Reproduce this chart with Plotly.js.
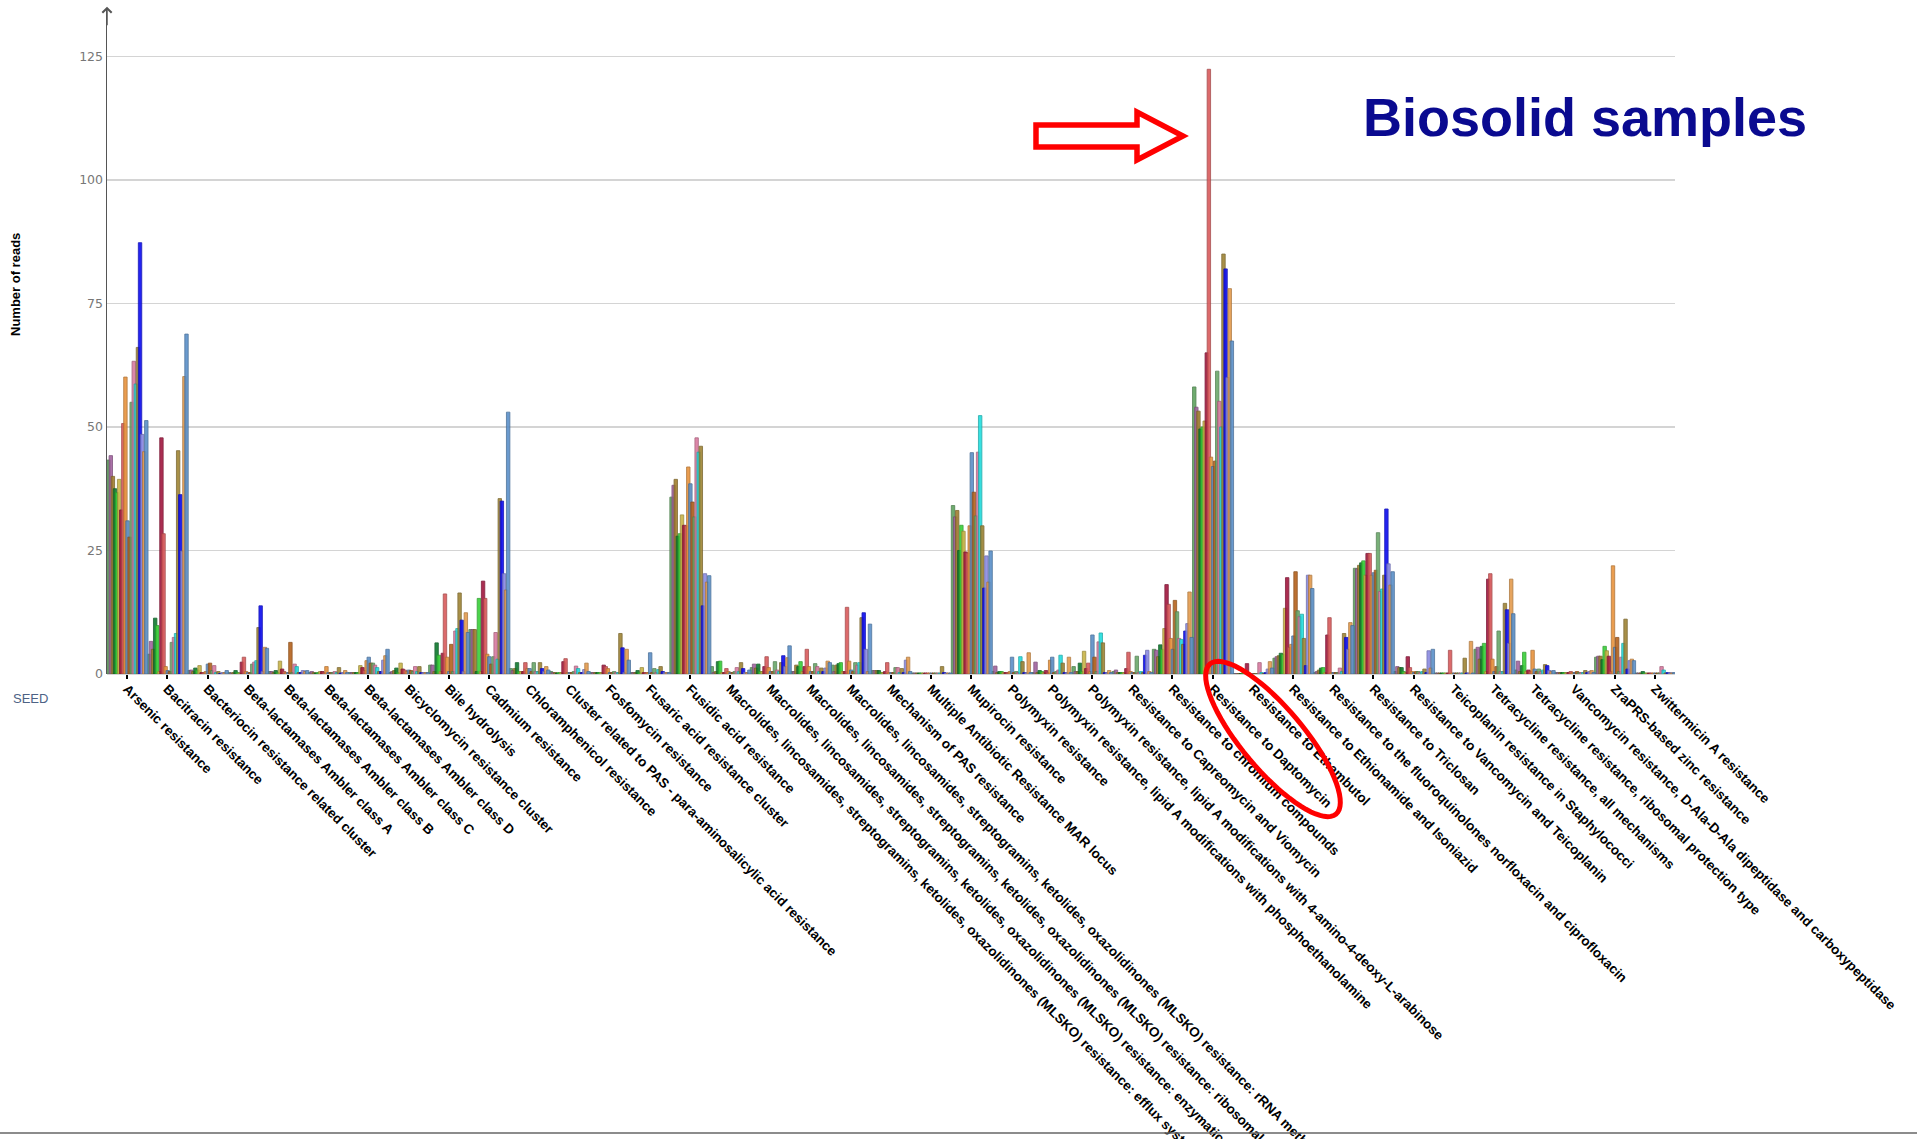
<!DOCTYPE html>
<html><head><meta charset="utf-8">
<script src="https://cdn.plot.ly/plotly-3.0.1.min.js"></script>
<style>html,body{margin:0;padding:0;background:#fff;overflow:hidden}#chart{width:1917px;height:1139px}</style>
</head><body><div id="chart"></div>
<script>
const categories = [
"Arsenic resistance","Bacitracin resistance","Bacteriocin resistance related cluster",
"Beta-lactamases Ambler class A","Beta-lactamases Ambler class B","Beta-lactamases Ambler class C",
"Beta-lactamases Ambler class D","Bicyclomycin resistance cluster","Bile hydrolysis","Cadmium resistance",
"Chloramphenicol resistance","Cluster related to PAS - para-aminosalicylic acid resistance",
"Fosfomycin resistance","Fusaric acid resistance cluster","Fusidic acid resistance",
"Macrolides, lincosamides, streptogramins, ketolides, oxazolidinones (MLSKO) resistance: efflux systems",
"Macrolides, lincosamides, streptogramins, ketolides, oxazolidinones (MLSKO) resistance: enzymatic inactivation",
"Macrolides, lincosamides, streptogramins, ketolides, oxazolidinones (MLSKO) resistance: ribosomal protection",
"Macrolides, lincosamides, streptogramins, ketolides, oxazolidinones (MLSKO) resistance: rRNA methylation",
"Mechanism of PAS resistance","Multiple Antibiotic Resistance MAR locus","Mupirocin resistance",
"Polymyxin resistance","Polymyxin resistance, lipid A modifications with phosphoethanolamine",
"Polymyxin resistance, lipid A modifications with 4-amino-4-deoxy-L-arabinose",
"Resistance to Capreomycin and Viomycin","Resistance to chromium compounds","Resistance to Daptomycin",
"Resistance to Ethambutol","Resistance to Ethionamide and Isoniazid",
"Resistance to the fluoroquinolones norfloxacin and ciprofloxacin","Resistance to Triclosan",
"Resistance to Vancomycin and Teicoplanin","Teicoplanin resistance in Staphylococci",
"Tetracycline resistance, all mechanisms","Tetracycline resistance, ribosomal protection type",
"Vancomycin resistance, D-Ala-D-Ala dipeptidase and carboxypeptidase","ZraPRS-based zinc resistance",
"Zwittermicin A resistance"];

const sample01 = [43.3,4,0.7,0.3,0.5,0.3,0.3,0.3,1.8,9,1.1,0.5,0.3,0.3,35.8,1.5,1.3,0.5,1.8,0.7,0.2,34.1,0.5,0.3,1.5,0.5,5,58.1,0.1,3.2,0.3,21.4,0.5,0.2,5,0.8,0.3,3.4,0.2];
const sample02 = [44.2,6.6,0.8,0.2,0.5,0.5,0.3,0.5,1.8,9,0.7,0.3,0.3,0.3,38.2,0.3,2,0.5,0.5,0.7,0.2,31.8,1.6,2.4,0.5,0.8,4.8,54,0.1,3.5,0.5,21.3,1.5,0.2,5.4,2.6,0.3,3.6,0.2];
const sample03 = [40,5,0.5,0.3,0.3,0.3,0.3,0.7,0.5,9,1.1,0.3,0.3,0.3,39.4,0.5,1.2,1.8,1.8,0.7,0.2,33.1,0.3,0.3,0.5,0.3,3.5,53.2,0.1,3.7,0.8,22,1.3,0.2,3,0.5,0.3,3.6,0.2];
const sample04 = [37.5,11.3,1.2,0.7,0.7,0.2,0.3,1.2,6.3,0.5,2.3,0.2,0.3,0.7,27.9,2.5,2,1.5,2.1,0.7,0.2,25,0.5,0.7,2.2,0.3,5.9,49.6,0.1,4.2,1.2,22.5,1.3,0.2,5.6,1.7,0.3,2.9,0.5];
const sample05 = [36.7,9.8,0.8,0.3,0.3,0.3,0.3,0.3,3.8,15.3,0.5,0.3,0.3,0.3,28.4,2.6,0.5,2.5,2.3,0.3,0.2,30.1,0.5,0.5,0.5,0.3,5,50,0.2,4,1.3,22.9,0.5,0.2,6.2,4.4,0.3,5.6,0.2];
const sample06 = [39.4,0.5,1.7,0.2,2.6,0.5,1.7,2.2,0.5,0.5,0.5,0.3,0.3,1.3,32.2,0.3,0.5,0.5,0.5,0.3,0.2,28.9,0.3,0.3,4.6,0.3,9.2,51.2,0.1,13.3,0.3,20,0.3,0.2,0.5,0.5,0.3,4.7,0.2];
const sample07 = [33.2,47.8,0.3,2.4,1,0.5,1.3,1,4.2,18.8,0.5,2.5,1.8,0.3,30.1,0.3,1.5,1.5,0.5,0.5,0.2,24.7,0.3,0.7,1.1,1.1,18.1,65,2.1,19.5,7.9,24.4,3.5,0.2,19.2,0.8,0.3,3.6,0.2];
const sample08 = [50.7,28.4,0.3,3.4,0.5,0.3,0.7,0.8,16.2,15.3,2.3,3.1,1.5,0.3,30,1.1,3.5,5,13.5,2.3,0.2,24.5,0.3,0.3,2.2,4.4,14.1,122.4,0.2,5.4,11.4,24.4,1.3,4.8,20.3,0.5,0.5,0.5,0.2];
const sample09 = [60.1,1.5,0.5,0.5,0.3,1.5,2.7,0.5,3.4,4,1.1,0.3,1.1,0.3,41.9,0.5,1.3,1.5,2.6,0.3,0.2,30,0.5,2.8,0.5,0.5,7.2,43.9,0.1,6,0.3,20,0.5,0.2,3,4.8,0.3,21.9,0.2];
const sample10 = [31,0.7,2,0.3,0.3,0.3,3.4,0.8,0.5,3.5,1.1,0.3,0.3,4.3,38.5,0.3,0.5,0.5,0.8,0.3,0.2,44.8,3.4,3.4,7.9,0.3,5,42,0.1,7.7,0.3,20.5,0.3,0.2,0.5,1,0.3,5.4,0.2];
const sample11 = [27.7,0.5,2.2,0.3,6.4,0.3,2.2,0.7,6,2,0.5,0.3,0.3,0.3,34.8,0.3,0.5,0.5,0.5,0.3,0.2,36.8,0.3,0.3,3.4,0.3,14.9,43.1,0.1,20.7,0.3,21,0.5,0.2,1.5,0.5,0.5,7.4,0.2];
const sample12 = [55,6.4,0.7,2,0.3,0.3,2.2,0.5,0.5,3.5,2.3,0.5,0.5,1.1,31.8,0.5,2.5,2.1,2.3,1.3,0.2,32,0.5,0.5,0.5,3.6,12.6,61.3,0.1,12.8,0.3,28.6,0.5,0.2,8.7,1,0.3,0.5,0.2];
const sample13 = [63.3,7.4,1.7,2.4,2,0.5,1.8,1.5,8.7,8.4,0.5,1.6,0.3,0.3,47.8,1.3,0.8,1.5,1.8,1.3,0.2,44.9,0.3,0.8,6.5,0.3,7.2,55.2,2.3,11.6,1.2,16.7,0.3,0.2,0.5,0.5,0.3,3.4,1.5];
const sample14 = [58.7,8.2,0.3,2.7,1.5,0.3,1.3,0.5,9.2,3,0.5,1.1,0.3,0.9,44.9,0.5,0.5,0.5,2.3,0.3,0.2,52.3,3.5,3.8,8.3,0.5,7,50,0.3,12.1,0.5,17.2,0.5,0.2,0.5,0.8,0.3,6.2,0.8];
const sample15 = [66.1,45.2,0.5,9.4,0.3,1.3,0.5,1.5,16.4,35.5,2.3,0.3,8.2,1.5,46.1,2.3,2.3,1.2,11.4,1.1,1.5,30,2.5,2.2,6.3,0.3,6,85,0.1,7.2,8.2,20,1,3.2,14.3,1.9,0.7,11.1,0.2];
const sample16 = [87.3,36.3,0.1,13.8,0.3,0.2,0.5,0.3,10.9,35,1.1,0.3,5.3,0.5,13.8,1.1,3.7,0.5,12.4,0.3,0.3,17.4,0.3,0.3,0.3,3.8,8.7,82,0.3,1.7,7.4,33.4,0.3,0.2,13,1.7,0.3,1,0.3];
const sample17 = [48.5,24.9,0.3,0.5,0.7,0.3,2.8,0.3,0.5,20.3,0.5,0.9,0.3,0.3,20.3,0.3,1.5,1.2,5,2.8,0.2,23.9,0.3,0.3,0.3,4.8,10.2,60,1,20,5,22.3,4.7,0.2,6.2,0.7,0.5,2.7,0.3];
const sample18 = [45,60.2,0.3,5.4,0.5,0.7,3.7,0.3,12.4,17,1.5,2.2,5,0.3,18.6,0.3,3.3,2.6,0.5,3.4,0.2,18.6,4.3,3.4,0.7,0.5,16.6,78,2.5,20,10.4,18,1.2,6.6,19.2,0.5,0.7,3,0.2];
const sample19 = [51.3,68.8,0.7,5.2,0.7,0.3,5,0.3,8.4,53,0.8,0.5,2.8,0.3,19.9,0.8,5.7,2.3,10.1,0.5,0.2,24.9,0.3,0.3,0.3,0.3,7.4,67.4,1.2,17.3,9.8,20.7,5,0.2,12.2,0.7,0.3,2.7,0.3];

const seriesNames = ["Sample 1","Sample 2","Sample 3","Sample 4","Sample 5","Sample 6","Sample 7","Sample 8","Sample 9","Sample 10","Sample 11","Sample 12","Sample 13","Sample 14","Sample 15","Sample 16","Sample 17","Sample 18","Sample 19"];
const seriesColors = ["#5fa35f","#a1629f","#a07e2e","#0e7a2e","#38d038","#c9b447","#a1173f","#d95a5c","#e8933d","#5b8fc7","#b5621c","#6aa86a","#d97aa0","#22dede","#9f8435","#0c0cf0","#8b8be2","#e49b4d","#5a90c9"];
const yTickVals = [0,25,50,75,100,125];
const yTickText = ["0","25","50","75","100","125"];

const series = [sample01,sample02,sample03,sample04,sample05,sample06,sample07,sample08,sample09,sample10,sample11,sample12,sample13,sample14,sample15,sample16,sample17,sample18,sample19];

function darker(hex, f){
  const n = parseInt(hex.slice(1),16);
  const r = Math.round(((n>>16)&255)*f), g = Math.round(((n>>8)&255)*f), b = Math.round((n&255)*f);
  return `rgba(${r},${g},${b},0.85)`;
}

const W = 1917, H = 1139;
const M = {l:107, r:242, t:10, b:465};
const PW = W - M.l - M.r, PH = H - M.t - M.b;
const px = x => (x - M.l) / PW;
const py = y => (H - M.b - y) / PH;

const barW = 0.085;
const step = (1.02 - barW) / (series.length - 1);
const traces = series.map((vals, k) => ({
  type: 'bar', x: categories, y: vals, name: seriesNames[k],
  offset: -0.5 + k * step, width: barW,
  marker: {color: seriesColors[k], opacity: 0.9, line: {color: darker(seriesColors[k], 0.75), width: 1}},
  hoverinfo: 'skip', showlegend: false
}));

// decorative red arrow (pixel outline converted to paper)
const arrowPts = [[1036,125],[1137,125],[1137,112],[1183,136],[1137,160],[1137,147],[1036,147]];
const arrowPath = 'M' + arrowPts.map(p => px(p[0]).toFixed(5) + ',' + py(p[1]).toFixed(5)).join(' L') + ' Z';

// decorative rotated ellipse
const ecx = 1273, ecy = 739, ea = 98, eb = 31, eth = 50 * Math.PI / 180;
let ell = [];
for (let i = 0; i <= 72; i++) {
  const t = i / 72 * 2 * Math.PI;
  const X = ecx + ea * Math.cos(t) * Math.cos(eth) - eb * Math.sin(t) * Math.sin(eth);
  const Y = ecy + ea * Math.cos(t) * Math.sin(eth) + eb * Math.sin(t) * Math.cos(eth);
  ell.push(px(X).toFixed(5) + ',' + py(Y).toFixed(5));
}
const ellPath = 'M' + ell.join(' L') + ' Z';

const layout = {
  width: W, height: H, margin: M,
  paper_bgcolor: '#ffffff', plot_bgcolor: '#ffffff',
  barmode: 'overlay', showlegend: false,
  xaxis: {
    type: 'category', range: [-0.5, categories.length - 0.5], automargin: false,
    tickangle: 45, ticks: 'outside', ticklen: 4, tickwidth: 2, tickcolor: '#000',
    ticklabelstandoff: -3,
    showgrid: false, showline: false, zeroline: false,
    tickfont: {family: 'Liberation Sans, Arial, sans-serif', size: 13.4, color: '#000', weight: 'bold'}
  },
  yaxis: {
    range: [0, 134.4], automargin: false, tickvals: yTickVals, ticktext: yTickText,
    showgrid: true, gridcolor: '#d4d4d4', gridwidth: 1.5,
    zeroline: true, zerolinecolor: '#d4d4d4', zerolinewidth: 1.5,
    showline: true, linecolor: '#555', linewidth: 1.5, ticks: '',
    tickfont: {family: 'DejaVu Sans, sans-serif', size: 12.5, color: '#777'}
  },
  annotations: [
    {xref: 'paper', yref: 'paper', x: 0, y: 1.005, ax: 0, ay: 20, text: '', showarrow: true,
     arrowhead: 4, arrowsize: 1.2, arrowwidth: 1.5, arrowcolor: '#555'},
    {xref: 'paper', yref: 'paper', x: px(15), y: py(285), xanchor: 'center', yanchor: 'middle',
     text: 'Number of reads', showarrow: false, textangle: -90,
     font: {family: 'Liberation Sans, Arial, sans-serif', size: 13, color: '#000', weight: 'bold'}},
    {xref: 'paper', yref: 'paper', x: px(30), y: py(698), xanchor: 'center', yanchor: 'middle',
     text: 'SEED', showarrow: false,
     font: {family: 'Liberation Sans, Arial, sans-serif', size: 13, color: '#4d6285'}},
    {xref: 'paper', yref: 'paper', x: px(1585), y: py(117), xanchor: 'center', yanchor: 'middle',
     text: '<b>Biosolid samples</b>', showarrow: false,
     font: {family: 'Liberation Sans, Arial, sans-serif', size: 54, color: '#0a0a90'}}
  ],
  shapes: [
    {type: 'path', xref: 'paper', yref: 'paper', path: arrowPath, line: {color: '#ff0000', width: 5.5}, fillcolor: '#ffffff', layer: 'above'},
    {type: 'path', xref: 'paper', yref: 'paper', path: ellPath, line: {color: '#ff0000', width: 5}, fillcolor: 'rgba(0,0,0,0)', layer: 'above'},
    {type: 'line', xref: 'paper', yref: 'paper', x0: px(0), x1: px(1917), y0: py(1133), y1: py(1133), line: {color: '#666', width: 1.5}, layer: 'above'}
  ]
};

Plotly.newPlot('chart', traces, layout, {staticPlot: true, displayModeBar: false});
</script>
</body></html>
